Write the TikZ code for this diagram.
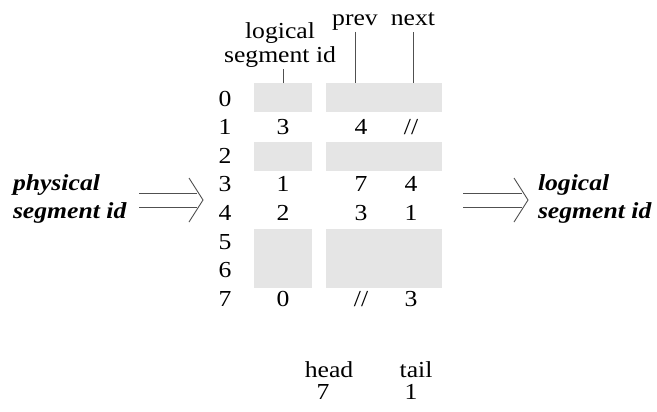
\documentclass[tikz,border=0pt]{standalone}
\usepackage{fontspec}
\setmainfont[FakeStretch=1.12]{Liberation Serif}
\definecolor{boxgray}{HTML}{E5E5E5}
\definecolor{linegray}{HTML}{505050}
\begin{document}
\begin{tikzpicture}[x=1bp,y=-1bp,
  every node/.style={inner sep=0pt, outer sep=0pt},
  txt/.style={anchor=base, font=\fontsize{23}{24}\selectfont},
  emph/.style={anchor=base west, font=\fontsize{23}{26}\selectfont\bfseries\itshape},
  cell/.style={fill=boxgray, minimum width=#1, minimum height=29bp},
  cell/.default=58bp,
  conn/.style={draw=linegray, line width=0.9bp}]
\useasboundingbox (0,0) rectangle (657,411);

% gray boxes
\node[cell] (b0l) at (283,97.5) {};
\node[cell=116bp] (b0r) at (384,97.5) {};
\node[cell] (b2l) at (283,156) {};
\node[cell=116bp] (b2r) at (384,156) {};
\node[cell, minimum height=59bp] (b5l) at (283,258.5) {};
\node[cell=116bp, minimum height=59bp] (b5r) at (384,258.5) {};

% row indices
\foreach \i in {0,...,7} {
  \node[txt] (r\i) at (225,{106+28.6*\i}) {\i};
}

% row 1
\node[txt] (v1a) at (283,134.6) {3};
\node[txt] (v1b) at (361,134.6) {4};
\node[txt] (v1c) at (411,134.6) {//};
% row 3
\node[txt] (v3a) at (283,191.8) {1};
\node[txt] (v3b) at (361,191.8) {7};
\node[txt] (v3c) at (411,191.8) {4};
% row 4
\node[txt] (v4a) at (283,220.4) {2};
\node[txt] (v4b) at (361,220.4) {3};
\node[txt] (v4c) at (411,220.4) {1};
% row 7
\node[txt] (v7a) at (283,306.2) {0};
\node[txt] (v7b) at (361,306.2) {//};
\node[txt] (v7c) at (411,306.2) {3};

% headers
\node[txt, align=center] (hlog) at (280,62) {logical\\segment id};
\node[txt] (hprev) at (355,25) {prev};
\node[txt] (hnext) at (413,25) {next};

\draw[conn] (b0l.north) -- ++(0,-14);
\draw[conn] ([yshift=-2bp]hprev.south) -- (hprev.south |- b0r.north);
\draw[conn] ([yshift=-7bp]hnext.south) -- (hnext.south |- b0r.north);

% side labels
\node[emph] (phys1) at (13,190) {physical};
\node[emph] (phys2) at (13,218) {segment id};
\node[emph] (log1) at (538,190) {logical};
\node[emph] (log2) at (538,218) {segment id};

% double arrows
\coordinate (la) at (139,200);
\coordinate (lt) at (203,200);
\coordinate (ra) at (463,200);
\coordinate (rt) at (528,200);
\draw[conn] ([yshift=-7bp]la) -- ([xshift=-6bp,yshift=-7bp]lt);
\draw[conn] ([yshift=7bp]la) -- ([xshift=-6bp,yshift=7bp]lt);
\draw[conn] ([xshift=-14bp,yshift=-22bp]lt) -- (lt) -- ([xshift=-14bp,yshift=22bp]lt);
\draw[conn] ([yshift=-7bp]ra) -- ([xshift=-6bp,yshift=-7bp]rt);
\draw[conn] ([yshift=7bp]ra) -- ([xshift=-6bp,yshift=7bp]rt);
\draw[conn] ([xshift=-14bp,yshift=-22bp]rt) -- (rt) -- ([xshift=-14bp,yshift=22bp]rt);

% head / tail
\node[txt] (head) at (329,377) {head};
\node[txt] (tail) at (416,377) {tail};
\node[txt] (headv) at (323,399) {7};
\node[txt] (tailv) at (411,399) {1};
\end{tikzpicture}
\end{document}
